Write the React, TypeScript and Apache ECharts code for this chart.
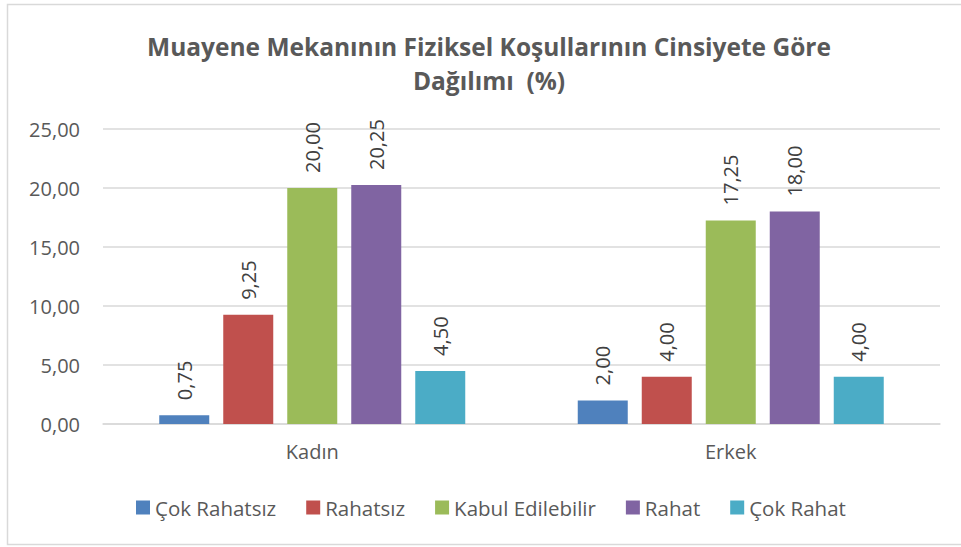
import React, { useEffect, useRef } from "react";
import * as echarts from "echarts";

const categories = ["Kadın", "Erkek"];
const seriesNames = ["Çok Rahatsız", "Rahatsız", "Kabul Edilebilir", "Rahat", "Çok Rahat"];
const cokRahatsiz = [0.75, 2.0];
const rahatsiz = [9.25, 4.0];
const kabulEdilebilir = [20.0, 17.25];
const rahat = [20.25, 18.0];
const cokRahat = [4.5, 4.0];
const colors = ["#4f81bd", "#c0504d", "#9bbb59", "#8064a2", "#4bacc6"];
const yTicks = [0, 5, 10, 15, 20, 25];

const fmt = (v: number) => v.toFixed(2).replace(".", ",");

export default function App() {
  const ref = useRef<HTMLDivElement>(null);
  useEffect(() => {
    if (!ref.current) return;
    const chart = echarts.init(ref.current, null, { renderer: "svg" });
    const font = "'Open Sans', 'Noto Sans', sans-serif";
    const dataSets = [cokRahatsiz, rahatsiz, kabulEdilebilir, rahat, cokRahat];
    chart.setOption({
      animation: false,
      backgroundColor: "#ffffff",
      textStyle: { fontFamily: font },
      title: {
        text: "Muayene Mekanının Fiziksel Koşullarının Cinsiyete Göre\nDağılımı  (%)",
        left: 484,
        textAlign: "center",
        top: 24,
        textStyle: {
          fontFamily: font,
          fontSize: 24.5,
          fontWeight: "bold",
          color: "#595959",
          lineHeight: 34,
        },
      },
      graphic: [
        {
          type: "rect",
          shape: { x: 7.5, y: 4.5, width: 970, height: 540 },
          style: { fill: "none", stroke: "#d9d9d9", lineWidth: 1.5 },
          silent: true,
        },
      ],
      grid: { left: 103, right: 21, top: 129, bottom: 123, containLabel: false },
      legend: {
        bottom: 24,
        left: 131,
        itemWidth: 14,
        itemHeight: 14,
        itemGap: 30,
        icon: "rect",
        data: seriesNames,
        textStyle: { fontFamily: font, fontSize: 20.5, color: "#595959" },
      },
      xAxis: {
        type: "category",
        data: categories,
        axisLine: { lineStyle: { color: "#d9d9d9", width: 1.5 } },
        axisTick: { show: false },
        axisLabel: { fontFamily: font, fontSize: 20, color: "#595959", margin: 17 },
      },
      yAxis: {
        type: "value",
        min: yTicks[0],
        max: yTicks[yTicks.length - 1],
        interval: 5,
        axisLine: { show: false },
        axisTick: { show: false },
        splitLine: { lineStyle: { color: "#d9d9d9", width: 1.5 } },
        axisLabel: {
          fontFamily: font,
          fontSize: 20,
          color: "#595959",
          margin: 23,
          formatter: (v: number) => fmt(v),
        },
      },
      series: seriesNames.map((name, i) => ({
        name,
        type: "bar",
        data: dataSets[i],
        barWidth: 50,
        barGap: "28%",
        itemStyle: { color: colors[i] },
        label: {
          show: true,
          position: "top",
          rotate: 90,
          align: "left",
          verticalAlign: "middle",
          distance: 15,
          fontFamily: font,
          fontSize: 20,
          color: "#404040",
          formatter: (p: any) => fmt(p.value),
        },
      })),
    });
    return () => chart.dispose();
  }, []);
  return (
    <div
      ref={ref}
      style={{ position: "fixed", left: 0, top: 0, width: 961, height: 547 }}
    />
  );
}
